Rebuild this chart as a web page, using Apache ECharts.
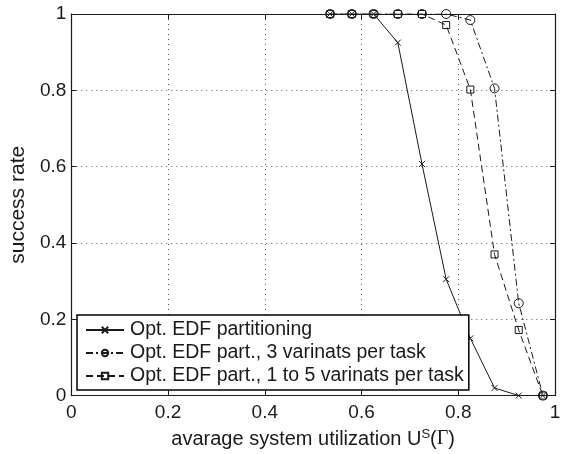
<!DOCTYPE html>
<html>
<head>
<meta charset="utf-8">
<script src="https://cdn.jsdelivr.net/npm/echarts@6/dist/echarts.min.js"></script>
<style>
  html, body { margin: 0; padding: 0; background: #fff; }
  #chart { width: 564px; height: 454px; }
</style>
</head>
<body>
<div id="chart"></div>
<script>
// utilization values on the x axis
var utilization = [0.535, 0.58, 0.625, 0.675, 0.725, 0.775, 0.825, 0.875, 0.925, 0.975];
// success rate per method
var partitioning = [1, 1, 1, 0.925, 0.607, 0.305, 0.15, 0.02, 0, 0];
var threeVariants = [1, 1, 1, 1, 1, 1, 0.984, 0.805, 0.242, 0];
var oneToFive = [1, 1, 1, 1, 1, 0.971, 0.802, 0.370, 0.172, 0];
var seriesNames = [
  'Opt. EDF partitioning',
  'Opt. EDF part., 3 varinats per task',
  'Opt. EDF part., 1 to 5 varinats per task'
];

var font = "'Liberation Sans', Arial, sans-serif";
var ink = '#1a1a1a';

function pairs(ys) {
  return utilization.map(function (x, i) { return [x, ys[i]]; });
}

var myChart = echarts.init(document.getElementById('chart'));

var valueAxis = {
  type: 'value',
  min: 0,
  max: 1,
  interval: 0.2,
  axisLine: { show: true, onZero: false, lineStyle: { color: ink, width: 1.2 } },
  axisTick: { show: true, inside: true, length: 5, lineStyle: { color: ink } },
  splitLine: { show: true, lineStyle: { color: '#555', type: [1, 4], width: 1 } }
};

function mirror(pos) {
  return {
    type: 'value', min: 0, max: 1, interval: 0.2, position: pos,
    axisLine: { show: true, onZero: false, lineStyle: { color: ink, width: 1.2 } },
    axisTick: { show: true, inside: true, length: 5, lineStyle: { color: ink } },
    axisLabel: { show: false },
    splitLine: { show: false }
  };
}

myChart.setOption({
  animation: false,
  backgroundColor: '#fff',
  grid: { left: 67, right: 9, top: 14, bottom: 56 },
  legend: {
    left: 77,
    top: 315,
    orient: 'vertical',
    backgroundColor: '#fff',
    borderColor: '#000',
    borderWidth: 1.5,
    padding: [5, 5, 4, 8],
    itemGap: 3,
    itemWidth: 38,
    itemHeight: 8,
    textStyle: { color: ink, fontSize: 19.5, fontFamily: font, lineHeight: 20, padding: [0, 0, 0, 1] },
    data: seriesNames
  },
  xAxis: [
    Object.assign({}, valueAxis, {
      axisLabel: { color: ink, fontSize: 19, fontFamily: font, margin: 8 },
      name: '{a|avarage system utilization U}{s|S}{a|(}{g|Γ}{a|)}',
      nameLocation: 'middle',
      nameGap: 30,
      nameTextStyle: {
        rich: {
          a: { fontSize: 20, fontFamily: font, color: ink },
          s: { fontSize: 13, fontFamily: font, color: ink, padding: [0, 0, 10, 0] },
          g: { fontSize: 20, fontFamily: "'Liberation Serif', serif", color: ink }
        }
      }
    }),
    mirror('top')
  ],
  yAxis: [
    Object.assign({}, valueAxis, {
      axisLabel: { color: ink, fontSize: 19, fontFamily: font, margin: 5 },
      name: 'success rate',
      nameLocation: 'middle',
      nameGap: 31,
      nameTextStyle: { color: ink, fontSize: 21, fontFamily: font }
    }),
    mirror('right')
  ],
  series: [
    {
      name: seriesNames[0],
      type: 'line',
      data: pairs(partitioning),
      symbol: 'path://M0,0L10,10M10,0L0,10',
      symbolSize: 6,
      itemStyle: { color: 'none', borderColor: ink, borderWidth: 1 },
      lineStyle: { color: ink, width: 1 },
      z: 3
    },
    {
      name: seriesNames[1],
      type: 'line',
      data: pairs(threeVariants),
      symbol: 'circle',
      symbolSize: 9,
      itemStyle: { color: 'none', borderColor: ink, borderWidth: 1 },
      lineStyle: { color: ink, width: 1, type: [7, 3, 2, 3] },
      z: 2
    },
    {
      name: seriesNames[2],
      type: 'line',
      data: pairs(oneToFive),
      symbol: 'rect',
      symbolSize: 7,
      itemStyle: { color: 'none', borderColor: ink, borderWidth: 1 },
      lineStyle: { color: ink, width: 1, type: [7, 4] },
      z: 4
    }
  ]
});
</script>
</body>
</html>
